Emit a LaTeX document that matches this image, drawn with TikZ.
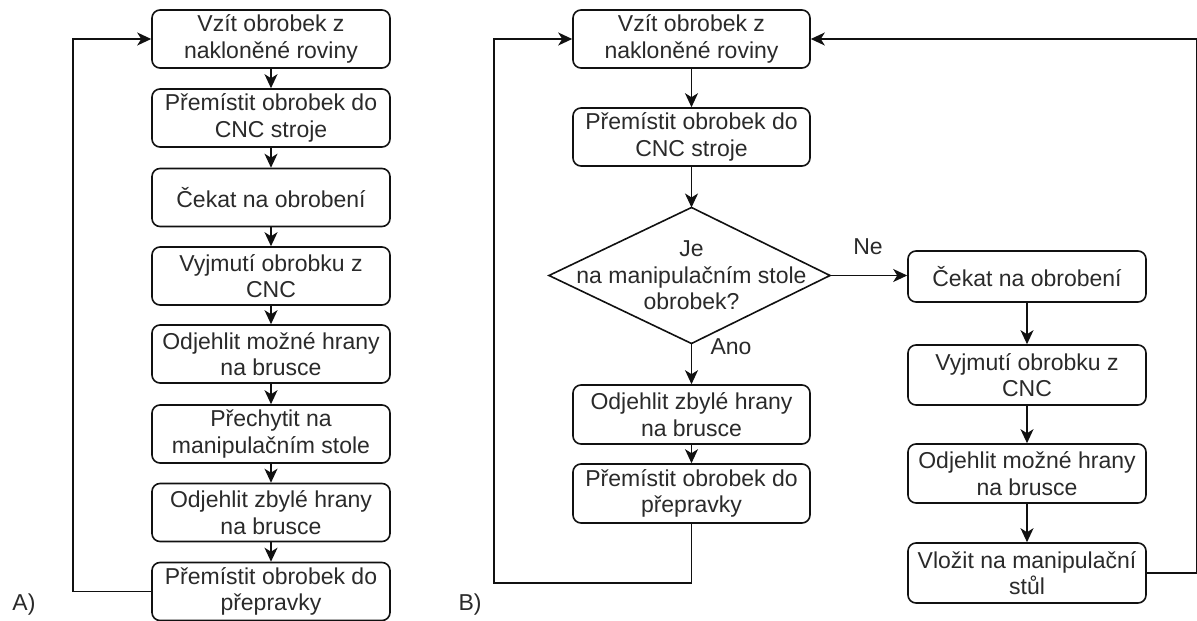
\documentclass[tikz,border=0pt]{standalone}
\usepackage{fontspec}
\setmainfont{Liberation Sans}
\usetikzlibrary{arrows.meta}
\definecolor{linec}{HTML}{111111}
\definecolor{textc}{HTML}{2A2A2A}
\begin{document}
\begin{tikzpicture}[x=1pt,y=-1pt,
  box/.style={draw=linec, line width=1.6pt, rounded corners=8pt, fill=white, text=textc,
    align=center, inner sep=0pt, minimum width=238pt, minimum height=58pt,
    font=\fontsize{23}{26.5}\selectfont},
  arr/.style={draw=linec, line width=1.6pt, -{Stealth[length=14pt,width=13pt,inset=4pt]}},
  ln/.style={draw=linec, line width=1.6pt, line join=miter},
  lbl/.style={text=textc, inner sep=0pt, font=\fontsize{23}{26.5}\selectfont, align=center}]
\useasboundingbox (0,0) rectangle (1197,621);

% ---------- A ----------
\node[box] (a1) at (271,39) {Vzít obrobek z\\nakloněné roviny};
\node[box] (a2) at (271,118) {Přemístit obrobek do\\CNC stroje};
\node[box] (a3) at (271,197.5) {Čekat na obrobení};
\node[box] (a4) at (271,276) {Vyjmutí obrobku z\\CNC};
\node[box] (a5) at (271,354) {Odjehlit možné hrany\\na brusce};
\node[box] (a6) at (271,434) {Přechytit na\\manipulačním stole};
\node[box] (a7) at (271,512.5) {Odjehlit zbylé hrany\\na brusce};
\node[box] (a8) at (271,591.5) {Přemístit obrobek do\\přepravky};
\foreach \u/\v in {a1/a2,a2/a3,a3/a4,a4/a5,a5/a6,a6/a7,a7/a8}
  \draw[arr] (\u.south) -- (\v.north);
\coordinate (aL) at (73,591.5);
\draw[arr] (a8.west) -- (aL) |- (a1.west);
\node[lbl] (labA) at (24,605) {A)};

% ---------- B ----------
\node[box, minimum width=237pt] (b1) at (691.5,39) {Vzít obrobek z\\nakloněné roviny};
\node[box, minimum width=237pt] (b2) at (691.5,137) {Přemístit obrobek do\\CNC stroje};
\node[lbl] (dec) at (691.5,275.5) {Je\\na manipulačním stole\\obrobek?};
\coordinate (dtop) at (691.5,207.5);
\coordinate (dbot) at (691.5,343.5);
\coordinate (dleft) at (549,275.5);
\coordinate (dright) at (830,275.5);
\draw[ln] (dtop) -- (dright) -- (dbot) -- (dleft) -- cycle;
\node[box, minimum width=237pt, minimum height=59pt] (b3) at (691.5,414.5) {Odjehlit zbylé hrany\\na brusce};
\node[box, minimum width=237pt, minimum height=59pt] (b4) at (691.5,493.5) {Přemístit obrobek do\\přepravky};
\draw[arr] (b1.south) -- (b2.north);
\draw[arr] (b2.south) -- (dtop);
\draw[arr] (dbot) -- (b3.north);
\draw[arr] (b3.south) -- (b4.north);
\coordinate (bL) at (494,583);
\draw[arr] (b4.south) |- (bL) |- (b1.west);
\node[lbl] (ano) at (731,347) {Ano};
\node[lbl] (ne) at (868,247) {Ne};
\node[lbl] (labB) at (470,605) {B)};

% ---------- right column ----------
\node[box, minimum height=51pt] (r1) at (1027,276.5) {Čekat na obrobení};
\node[box, minimum height=60pt] (r2) at (1027,375) {Vyjmutí obrobku z\\CNC};
\node[box, minimum height=59pt] (r3) at (1027,473.5) {Odjehlit možné hrany\\na brusce};
\node[box, minimum height=60pt] (r4) at (1027,573) {Vložit na manipulační\\stůl};
\draw[arr] (dright) -- (dright -| r1.west);
\draw[arr] (r1.south) -- (r2.north);
\draw[arr] (r2.south) -- (r3.north);
\draw[arr] (r3.south) -- (r4.north);
\coordinate (rR) at (1196.5,573);
\draw[arr] (r4.east) -- (rR) |- (b1.east);
\end{tikzpicture}
\end{document}
